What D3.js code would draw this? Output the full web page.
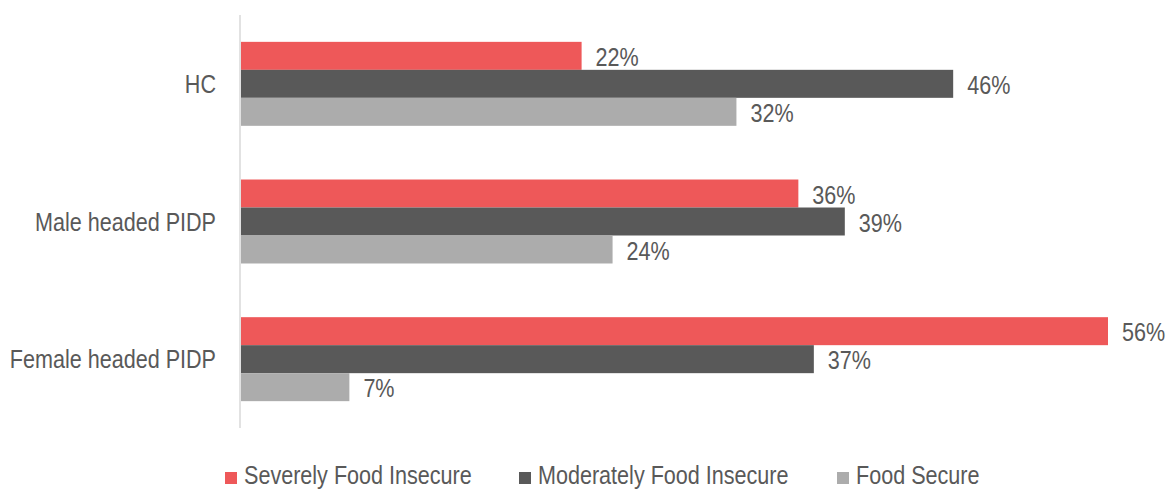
<!DOCTYPE html>
<html>
<head>
<meta charset="utf-8">
<script src="https://cdn.jsdelivr.net/npm/d3@7"></script>
<style>
  html, body { margin: 0; padding: 0; background: #fff; }
  text { font-family: "Liberation Sans Narrow", "Arial Narrow", "Liberation Sans", Arial, sans-serif; fill: #595959; }
</style>
</head>
<body>
<svg id="chart" width="1172" height="491"></svg>
<script>
// Households by food security status (share of households, %)
const groups = ["HC", "Male headed PIDP", "Female headed PIDP"];
const seriesNames = ["Severely Food Insecure", "Moderately Food Insecure", "Food Secure"];
const seriesColors = ["#ee5859", "#595959", "#acacac"];
const severe = [22, 36, 56];
const moderate = [46, 39, 37];
const secure = [32, 24, 7];
const seriesValues = [severe, moderate, secure];

const svg = d3.select("#chart");
const margin = { top: 15, left: 240, bottom: 63 };
const H = 491;
const plotBottom = H - margin.bottom;
const FONT = 26;
// condensed look: horizontally squeeze a regular sans face
const SQUEEZE = 0.83;

const x = d3.scaleLinear().domain([0, 56]).range([margin.left + 1, 1108]);
const y0 = d3.scaleBand().domain(groups).range([margin.top, plotBottom]).paddingInner(0.39).paddingOuter(0.195);
const y1 = d3.scaleBand().domain(seriesNames).range([0, y0.bandwidth()]);

function place(sel, fx, fy) {
  return sel.attr("transform", (d, i) => `translate(${fx(d, i)},${fy(d, i)}) scale(${SQUEEZE},1)`)
    .attr("font-size", FONT)
    .attr("dominant-baseline", "central");
}

// vertical category axis line
svg.append("line")
  .attr("x1", margin.left).attr("x2", margin.left)
  .attr("y1", margin.top).attr("y2", plotBottom)
  .attr("stroke", "#d9d9d9").attr("stroke-width", 1.5);

// category labels
place(svg.append("g").selectAll("text").data(groups).join("text"),
  () => margin.left - 24,
  d => y0(d) + y0.bandwidth() / 2)
  .attr("text-anchor", "end")
  .text(d => d);

// bars and value labels
seriesNames.forEach((s, i) => {
  const g = svg.append("g");
  const vals = seriesValues[i];
  g.selectAll("rect").data(groups).join("rect")
    .attr("x", x(0))
    .attr("y", d => y0(d) + y1(s))
    .attr("width", (d, j) => x(vals[j]) - x(0))
    .attr("height", y1.bandwidth())
    .attr("fill", seriesColors[i]);
  place(g.selectAll("text").data(groups).join("text"),
    (d, j) => x(vals[j]) + 14,
    d => y0(d) + y1(s) + y1.bandwidth() / 2 + 1)
    .text((d, j) => vals[j] + "%");
});

// legend
const legendX = [225, 519, 837];
const legend = svg.append("g").selectAll("g").data(seriesNames).join("g")
  .attr("transform", (d, i) => `translate(${legendX[i]},478)`);
legend.append("rect")
  .attr("x", 0).attr("y", -6).attr("width", 12).attr("height", 12)
  .attr("fill", (d, i) => seriesColors[i]);
place(legend.append("text"), () => 19, () => -3)
  .text(d => d);
</script>
</body>
</html>
